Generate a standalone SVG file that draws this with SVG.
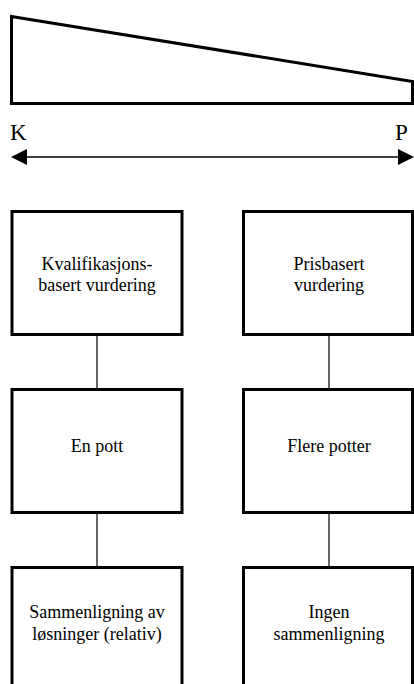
<svg xmlns="http://www.w3.org/2000/svg" width="414" height="684" viewBox="0 0 414 684">
<style>
.box{fill:#fff;stroke:#000;stroke-width:3}
.t{font-family:'Liberation Serif','DejaVu Serif',serif;font-size:18px;fill:#000;text-anchor:middle}
.big{font-family:'Liberation Serif','DejaVu Serif',serif;font-size:23px;fill:#000}
.conn{stroke:#000;stroke-width:1.2;fill:none}
</style>
<rect width="414" height="684" fill="#fff"/>
<g id="wedge">
<polygon points="11.5,16.5 412.5,81.5 412.5,103.5 11.5,103.5" fill="#fff" stroke="#000" stroke-width="3"/>
</g>
<g id="scale">
<text class="big" x="10" y="140">K</text>
<text class="big" x="395" y="140">P</text>
<line x1="24" y1="157" x2="400" y2="157" stroke="#000" stroke-width="1.5"/>
<polygon points="11,157 27,149 27,165" fill="#000"/>
<polygon points="414,157 398,149 398,165" fill="#000"/>
</g>
<g id="connectors">
<line class="conn" x1="97" y1="336" x2="97" y2="388"/>
<line class="conn" x1="329" y1="336" x2="329" y2="388"/>
<line class="conn" x1="97" y1="514" x2="97" y2="566"/>
<line class="conn" x1="329" y1="514" x2="329" y2="566"/>
</g>
<g id="n1">
<rect class="box" x="12" y="211.5" width="170" height="123"/>
<text class="t" x="97" y="270">Kvalifikasjons-</text>
<text class="t" x="97" y="291">basert vurdering</text>
</g>
<g id="n2">
<rect class="box" x="243.5" y="211.5" width="169" height="123"/>
<text class="t" x="329" y="270">Prisbasert</text>
<text class="t" x="329" y="291">vurdering</text>
</g>
<g id="n3">
<rect class="box" x="12" y="389.5" width="170" height="123"/>
<text class="t" x="97" y="452">En pott</text>
</g>
<g id="n4">
<rect class="box" x="243.5" y="389.5" width="169" height="123"/>
<text class="t" x="329" y="452">Flere potter</text>
</g>
<g id="n5">
<rect class="box" x="12" y="567.5" width="170" height="130"/>
<text class="t" x="97" y="618">Sammenligning av</text>
<text class="t" x="97" y="640">løsninger (relativ)</text>
</g>
<g id="n6">
<rect class="box" x="243.5" y="567.5" width="169" height="130"/>
<text class="t" x="329" y="618">Ingen</text>
<text class="t" x="329" y="640">sammenligning</text>
</g>
</svg>
